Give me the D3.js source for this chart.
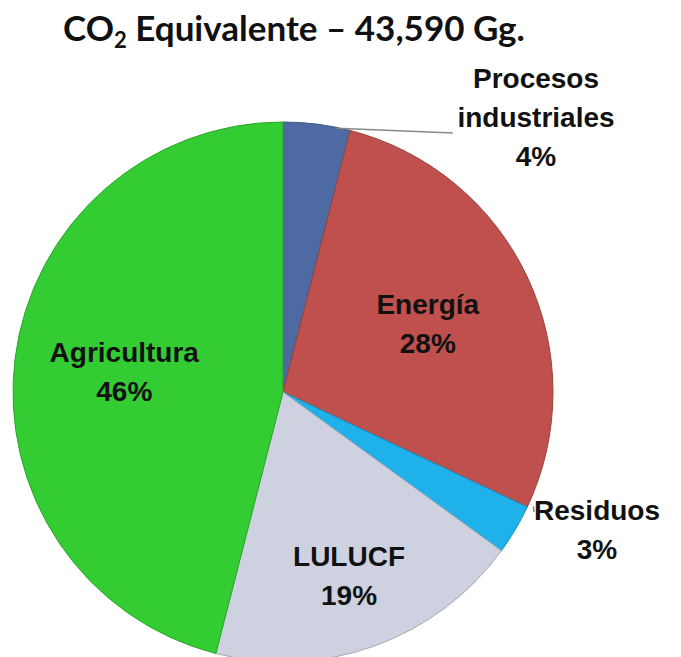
<!DOCTYPE html>
<html>
<head>
<meta charset="utf-8">
<script src="https://cdn.jsdelivr.net/npm/d3@7"></script>
<style>
  body { margin: 0; background: #fff; }
  text { font-family: "Liberation Sans", Arial, sans-serif; }
</style>
</head>
<body>
<div id="chart-area"></div>
<script>
// Data
let sectors = ["Procesos industriales", "Energía", "Residuos", "LULUCF", "Agricultura"];
let shares = [4, 28, 3, 19, 46];
let colors = ["#4d6aa3", "#c0504d", "#1eb1ea", "#cdd1e0", "#33cc33"];
let labelLines = [["Procesos", "industriales", "4%"], ["Energía", "28%"], ["Residuos", "3%"], ["LULUCF", "19%"], ["Agricultura", "46%"]];

let width = 681, height = 657;
let cx = 283, cy = 392, radius = 270;

let svg = d3.select("#chart-area").append("svg")
    .attr("width", width)
    .attr("height", height);

// Title
let title = svg.append("text")
    .attr("x", 294)
    .attr("y", 41)
    .attr("text-anchor", "middle")
    .style("font-family", "Lato, 'Open Sans', sans-serif")
    .style("font-weight", "bold")
    .style("font-size", "35px")
    .attr("fill", "#111");
title.append("tspan").text("CO");
title.append("tspan").text("2").style("font-size", "22px").attr("dy", 7);
title.append("tspan").text(" Equivalente – 43,590 Gg.").attr("dy", -7);

let pie = d3.pie().sort(null).value(d => d);
let arcs = pie(shares);

let arc = d3.arc().innerRadius(0).outerRadius(radius);

let g = svg.append("g").attr("transform", "translate(" + cx + "," + cy + ")");

g.selectAll("path")
    .data(arcs)
    .enter()
    .append("path")
    .attr("d", arc)
    .attr("fill", (d, i) => colors[i])
    .attr("stroke", (d, i) => d3.color(colors[i]).darker(0.6))
    .attr("stroke-width", 1);

// Label placement: inside slices use a label arc, small slices go outside
let inside = {1: 160, 3: 195, 4: 160};
let outside = {0: [253, -275], 2: [314, 137]};
let lineH = 39;

arcs.forEach((d, i) => {
  let x, y;
  if (inside[i]) {
    let la = d3.arc().innerRadius(inside[i]).outerRadius(inside[i]);
    [x, y] = la.centroid(d);
  } else {
    [x, y] = outside[i];
  }
  let lines = labelLines[i];
  let y0 = y - (lines.length - 1) * lineH / 2;
  let t = g.append("text")
      .attr("text-anchor", "middle")
      .style("font-weight", "bold")
      .style("font-size", "28px")
      .attr("fill", "#111");
  lines.forEach((s, k) => {
    t.append("tspan").attr("x", x).attr("y", y0 + k * lineH + 10).text(s);
  });
});

// Leader lines for the outside labels
let outerPt = d3.arc().innerRadius(radius).outerRadius(radius);
let p0 = outerPt.centroid(arcs[0]);
g.append("path")
    .attr("d", d3.line()([[p0[0] + 20, p0[1] + 4], [170, -259]]))
    .attr("fill", "none")
    .attr("stroke", "#888")
    .attr("stroke-width", 1.5);
let p2 = outerPt.centroid(arcs[2]);
g.append("path")
    .attr("d", d3.line()([[p2[0] + 18, p2[1] - 23], [251, 120]]))
    .attr("fill", "none")
    .attr("stroke", "#888")
    .attr("stroke-width", 1.5);
</script>
</body>
</html>
